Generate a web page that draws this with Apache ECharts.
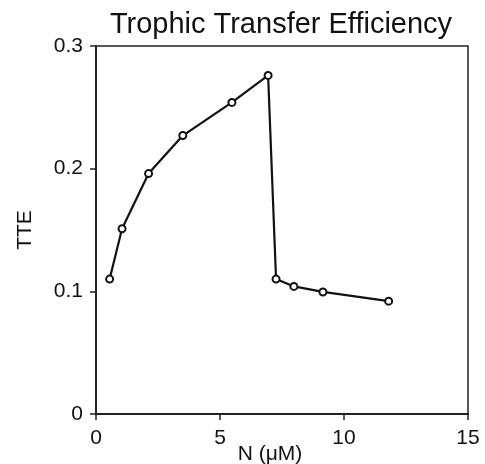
<!DOCTYPE html>
<html>
<head>
<meta charset="utf-8">
<script src="https://cdn.jsdelivr.net/npm/echarts@6/dist/echarts.min.js"></script>
<style>html,body{margin:0;padding:0;background:#fff;}#c{width:485px;height:464px;}</style>
</head>
<body>
<div id="c"></div>
<script>
var nValues = [0.55, 1.05, 2.12, 3.5, 5.48, 6.94, 7.26, 7.98, 9.15, 11.8];
var tteValues = [0.110, 0.151, 0.196, 0.227, 0.254, 0.276, 0.110, 0.104, 0.0995, 0.092];
var points = nValues.map(function (n, i) { return [n, tteValues[i]]; });
var font = 'Arial';
var chart = echarts.init(document.getElementById('c'));
chart.setOption({
  animation: false,
  textStyle: { fontFamily: font },
  title: {
    text: 'Trophic Transfer Efficiency',
    left: 276, top: 5, textAlign: 'center',
    textStyle: { fontFamily: font, fontSize: 29, fontWeight: 'normal', color: '#111' }
  },
  grid: { left: 96, right: 17, top: 46, bottom: 50, show: true, borderColor: '#222', borderWidth: 1.5,
    containLabel: false, outerBoundsMode: 'none' },
  xAxis: {
    type: 'value', min: 0, max: 15, interval: 5,
    name: 'N (\u03bcM)', nameLocation: 'middle', nameGap: 30, nameMoveOverlap: false,
    nameTextStyle: { fontFamily: font, fontSize: 21, color: '#111', padding: [0, 24, 0, 0] },
    axisLine: { show: true, lineStyle: { color: '#222', width: 2 } },
    axisTick: { show: true, inside: false, length: 6, lineStyle: { color: '#222', width: 1.5 } },
    axisLabel: { fontFamily: font, fontSize: 21, color: '#111', margin: 14 },
    splitLine: { show: false }
  },
  yAxis: {
    type: 'value', min: 0, max: 0.3, interval: 0.1,
    name: 'TTE', nameLocation: 'middle', nameGap: 60, nameMoveOverlap: false,
    nameTextStyle: { fontFamily: font, fontSize: 21, color: '#111' },
    axisLine: { show: true, lineStyle: { color: '#222', width: 2 } },
    axisTick: { show: true, inside: false, length: 6, lineStyle: { color: '#222', width: 1.5 } },
    axisLabel: { fontFamily: font, fontSize: 21, color: '#111', margin: 13,
      formatter: function (v) { return v === 0 ? '0' : v.toFixed(1); } },
    splitLine: { show: false }
  },
  series: [{
    type: 'line', data: points,
    symbol: 'circle', symbolSize: 7,
    lineStyle: { color: '#111', width: 2.2 },
    itemStyle: { color: '#fff', borderColor: '#111', borderWidth: 2 }
  }]
});
</script>
</body>
</html>
